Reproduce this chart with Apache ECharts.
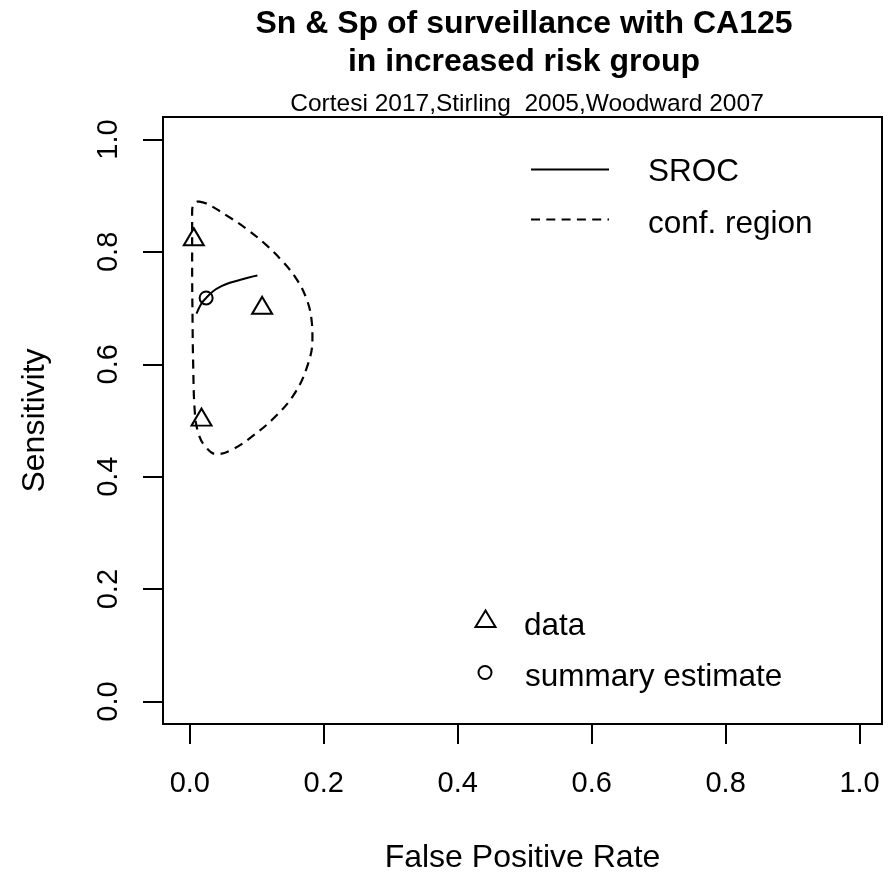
<!DOCTYPE html>
<html>
<head>
<meta charset="utf-8">
<script src="https://cdn.jsdelivr.net/npm/echarts@6/dist/echarts.min.js"></script>
<style>html,body{margin:0;padding:0;background:#fff;}#c{width:888px;height:875px;}</style>
</head>
<body>
<div id="c"></div>
<script>
// ---- data ----
const titleLines = ['Sn & Sp of surveillance with CA125', 'in increased risk group'];
const subTitle = 'Cortesi 2017,Stirling  2005,Woodward 2007';
const xTicks = [0, 0.2, 0.4, 0.6, 0.8, 1.0];
const yTicks = [0, 0.2, 0.4, 0.6, 0.8, 1.0];
const dataFPR = [0.006, 0.108, 0.0175];
const dataSens = [0.822, 0.700, 0.501];
const summaryFPR = [0.0244];
const summarySens = [0.718];
const srocFPR = [0.0100, 0.0174, 0.0244, 0.0348, 0.0473, 0.0597, 0.0746, 0.0896, 0.1010];
const srocSens = [0.690, 0.708, 0.718, 0.730, 0.739, 0.745, 0.750, 0.755, 0.758];
const regionFPR = [0.0124, 0.0249, 0.0547, 0.0846, 0.1144, 0.1393, 0.1592, 0.1741, 0.1816, 0.1831, 0.1741, 0.1542, 0.1244, 0.0945, 0.0647, 0.0398, 0.0224, 0.0124, 0.0075, 0.0050, 0.0040, 0.0035, 0.0035, 0.0050, 0.0124];
const regionSens = [0.890, 0.886, 0.865, 0.841, 0.812, 0.782, 0.752, 0.717, 0.681, 0.645, 0.592, 0.544, 0.503, 0.473, 0.449, 0.440, 0.455, 0.479, 0.515, 0.604, 0.693, 0.782, 0.871, 0.883, 0.890];

const FONT = '"Liberation Sans", Arial, Helvetica, sans-serif';
const DASH = [9, 6.3];
const zip = (a, b) => a.map((v, i) => [v, b[i]]);

const chart = echarts.init(document.getElementById('c'), null, {renderer: 'canvas'});
chart.setOption({
  animation: false,
  backgroundColor: '#ffffff',
  title: [
    {text: titleLines.join('\n'), left: 519, top: 0, textAlign: 'center',
     textStyle: {fontFamily: FONT, fontWeight: 'bold', fontSize: 32, lineHeight: 38, color: '#000'}},
    {text: subTitle, left: 522, top: 87, textAlign: 'center',
     textStyle: {fontFamily: FONT, fontWeight: 'normal', fontSize: 24.5, color: '#000'}}
  ],
  grid: {left: 163, top: 117, right: 6, bottom: 151, show: true, borderColor: '#000', borderWidth: 2,
         backgroundColor: 'transparent', containLabel: false, outerBoundsMode: 'none'},
  xAxis: {
    type: 'value', min: -0.04, max: 1.0335,
    name: 'False Positive Rate', nameLocation: 'middle', nameGap: 118,
    nameTextStyle: {fontFamily: FONT, fontSize: 32, color: '#000'},
    axisLine: {show: false, onZero: false},
    splitLine: {show: false},
    axisTick: {show: true, inside: false, length: 20, customValues: xTicks, lineStyle: {color: '#000', width: 2}},
    axisLabel: {show: true, margin: 45, customValues: xTicks, fontFamily: FONT, fontSize: 29, color: '#000',
                formatter: v => v.toFixed(1)}
  },
  yAxis: {
    type: 'value', min: -0.04, max: 1.04,
    name: 'Sensitivity', nameLocation: 'middle', nameGap: 112, nameRotate: 90,
    nameTextStyle: {fontFamily: FONT, fontSize: 32, color: '#000'},
    axisLine: {show: false, onZero: false},
    splitLine: {show: false},
    axisTick: {show: true, inside: false, length: 20, customValues: yTicks, lineStyle: {color: '#000', width: 2}},
    axisLabel: {show: true, margin: 40, rotate: 90, customValues: yTicks, fontFamily: FONT, fontSize: 29, color: '#000',
                formatter: v => v.toFixed(1)}
  },
  series: [
    {type: 'line', name: 'conf. region', data: zip(regionFPR, regionSens), smooth: 0.4, symbol: 'none',
     lineStyle: {color: '#000', width: 2.2, type: DASH}, silent: true},
    {type: 'line', name: 'SROC', data: zip(srocFPR, srocSens), smooth: 0.4, symbol: 'none',
     lineStyle: {color: '#000', width: 2}, silent: true},
    {type: 'scatter', name: 'data', data: zip(dataFPR, dataSens), symbol: 'triangle',
     symbolSize: [20, 17], symbolOffset: [0, -2.8],
     itemStyle: {color: 'rgba(0,0,0,0)', borderColor: '#000', borderWidth: 2, opacity: 1}, silent: true},
    {type: 'scatter', name: 'summary estimate', data: zip(summaryFPR, summarySens), symbol: 'circle',
     symbolSize: 13, itemStyle: {color: 'rgba(0,0,0,0)', borderColor: '#000', borderWidth: 2, opacity: 1}, silent: true}
  ],
  graphic: [
    {type: 'line', shape: {x1: 531, y1: 169.5, x2: 609, y2: 169.5}, style: {stroke: '#000', lineWidth: 2}},
    {type: 'text', left: 648, top: 156, style: {text: 'SROC', font: '31.5px ' + FONT, fill: '#000'}},
    {type: 'line', shape: {x1: 531, y1: 219.5, x2: 609, y2: 219.5}, style: {stroke: '#000', lineWidth: 2.2, lineDash: DASH}},
    {type: 'text', left: 648, top: 208, style: {text: 'conf. region', font: '31.5px ' + FONT, fill: '#000'}},
    {type: 'polygon', shape: {points: [[485.5, 610.5], [475.5, 627], [495.5, 627]]}, style: {fill: 'none', stroke: '#000', lineWidth: 2}},
    {type: 'text', left: 524, top: 610, style: {text: 'data', font: '31.5px ' + FONT, fill: '#000'}},
    {type: 'circle', shape: {cx: 485, cy: 672.5, r: 6.5}, style: {fill: 'none', stroke: '#000', lineWidth: 2}},
    {type: 'text', left: 525, top: 661, style: {text: 'summary estimate', font: '31.5px ' + FONT, fill: '#000'}}
  ]
});
</script>
</body>
</html>
